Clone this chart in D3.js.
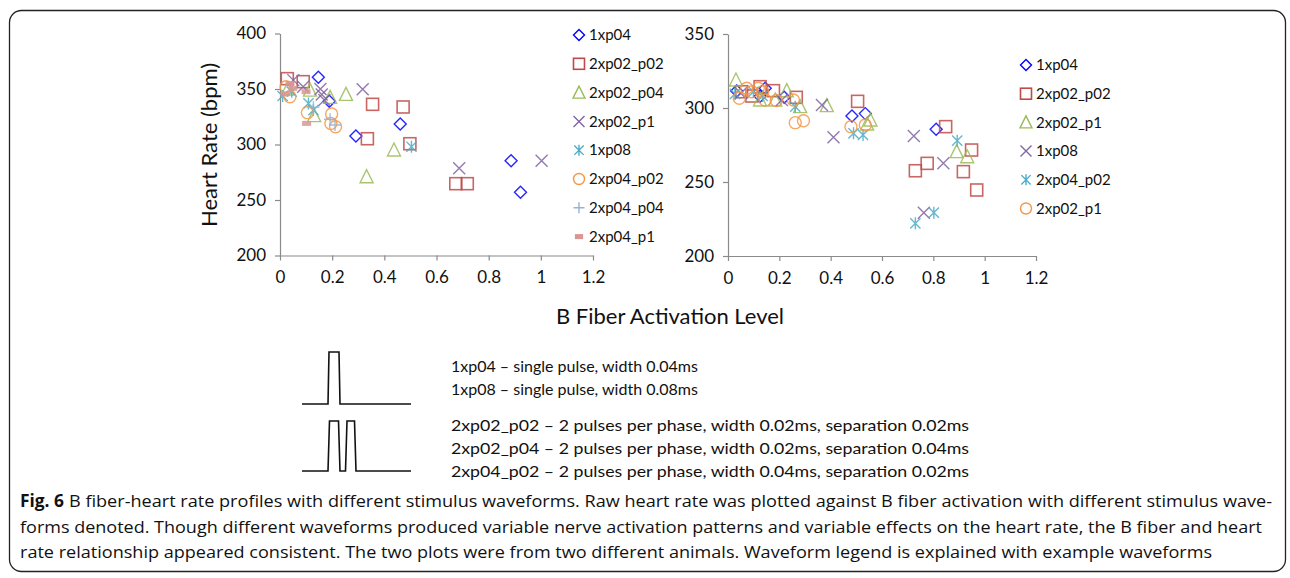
<!DOCTYPE html>
<html><head><meta charset="utf-8">
<script src="https://cdn.jsdelivr.net/npm/d3@7"></script>
<style>
html,body{margin:0;padding:0;background:#fff;}
svg{display:block;}
</style></head>
<body>
<svg id="c" width="1290" height="578"></svg>
<script>
// ---------- DATA ----------
const xTicks = [0, 0.2, 0.4, 0.6, 0.8, 1, 1.2];
const leftYTicks = [200, 250, 300, 350, 400];
const rightYTicks = [200, 250, 300, 350];
const xTitle = "B Fiber Activation Level";
const yTitle = "Heart Rate (bpm)";

// Left panel (animal 1)
const leftNames = ["1xp04","2xp02_p02","2xp02_p04","2xp02_p1","1xp08","2xp04_p02","2xp04_p04","2xp04_p1"];
const L_1xp04    = [[0.147,360.5],[0.189,339],[0.291,307.7],[0.461,318.5],[0.886,285.4],[0.922,257]];
const L_2xp02_p02= [[0.028,359.3],[0.089,356.6],[0.355,336.2],[0.472,333.8],[0.335,305.2],[0.498,300.7],[0.674,264.7],[0.718,264.7]];
const L_2xp02_p04= [[0.253,345.2],[0.192,342.5],[0.115,349],[0.131,326],[0.437,295],[0.332,271],[0.03,350]];
const L_2xp02_p1 = [[0.051,358],[0.089,352],[0.155,350],[0.16,345],[0.17,340],[0.317,349.7],[0.687,278.6],[1.003,285.4]];
const L_1xp08    = [[0.01,343.7],[0.045,347.6],[0.109,337],[0.128,331],[0.504,298]];
const L_2xp04_p02= [[0.023,352],[0.038,343],[0.105,328.7],[0.198,327.5],[0.213,316],[0.195,319]];
const L_2xp04_p04= [[0.128,333.5],[0.192,322.7],[0.211,317.6]];
const L_2xp04_p1 = [[0.019,345.5],[0.038,355],[0.049,350.6],[0.1,347.6],[0.102,319]];
const leftData = [L_1xp04,L_2xp02_p02,L_2xp02_p04,L_2xp02_p1,L_1xp08,L_2xp04_p02,L_2xp04_p04,L_2xp04_p1];
const leftShapes = ["diamond","square","triangle","x","star","circle","plus","dash"];

// Right panel (animal 2)
const rightNames = ["1xp04","2xp02_p02","2xp02_p1","1xp08","2xp04_p02","2xp02_p1"];
const R_1xp04    = [[0.034,311.5],[0.145,313.3],[0.125,308],[0.219,307.2],[0.483,294.6],[0.535,296.2],[0.811,285.6]];
const R_2xp02_p02= [[0.053,311],[0.093,308.1],[0.125,314.4],[0.177,311.7],[0.266,307.2],[0.505,304.5],[0.73,257.6],[0.776,262.6],[0.848,287.4],[0.917,257],[0.949,271.6],[0.969,244.6]];
const R_2xp02_p1a= [[0.031,318.9],[0.125,305.4],[0.184,305.4],[0.229,311.7],[0.281,300.9],[0.385,301.6],[0.555,291.9],[0.542,289.2],[0.891,270.5],[0.932,267.1]];
const R_1xp08    = [[0.05,310],[0.21,305.4],[0.366,302],[0.411,280.2],[0.724,281.1],[0.763,229.3],[0.839,262.6]];
const R_2xp04_p02= [[0.027,309.5],[0.099,311],[0.135,308.1],[0.262,300.9],[0.489,282.9],[0.526,281.8],[0.73,222.1],[0.802,229.3],[0.893,277.9]];
const R_2xp02_p1b= [[0.044,306.6],[0.073,313.3],[0.093,311],[0.118,313.3],[0.135,311],[0.145,305.4],[0.188,305],[0.262,290.1],[0.294,291.4],[0.255,305.4],[0.479,287.4],[0.535,288.5]];
const rightData = [R_1xp04,R_2xp02_p02,R_2xp02_p1a,R_1xp08,R_2xp04_p02,R_2xp02_p1b];
const rightShapes = ["diamond","square","triangle","x","star","circle"];

const waveTexts1 = ["1xp04 \u2013 single pulse, width 0.04ms","1xp08 \u2013 single pulse, width 0.08ms"];
const waveTexts2 = ["2xp02_p02 \u2013 2 pulses per phase, width 0.02ms, separation 0.02ms",
                    "2xp02_p04 \u2013 2 pulses per phase, width 0.02ms, separation 0.04ms",
                    "2xp04_p02 \u2013 2 pulses per phase, width 0.04ms, separation 0.02ms"];
const captionBold = "Fig. 6";
const captionLines = [
 "B fiber-heart rate profiles with different stimulus waveforms. Raw heart rate was plotted against B fiber activation with different stimulus wave-",
 "forms denoted. Though different waveforms produced variable nerve activation patterns and variable effects on the heart rate, the B fiber and heart",
 "rate relationship appeared consistent. The two plots were from two different animals. Waveform legend is explained with example waveforms"];

// ---------- STYLE ----------
const shapeColor = {diamond:"#0000ff",square:"#be4b48",triangle:"#9bbb59",x:"#8064a2",star:"#4bacc6",circle:"#f79646",plus:"#95b3d7",dash:"#d99694"};
const FONT = "Lato, 'Open Sans', sans-serif";
const AX = "#8a8a8a";

const svg = d3.select("#c");
svg.append("rect").attr("width",1290).attr("height",578).attr("fill","#fff");
svg.append("rect").attr("x",9.5).attr("y",10.5).attr("width",1276).attr("height",561).attr("rx",12)
   .attr("fill","none").attr("stroke","#222").attr("stroke-width",1.3);

function drawMarker(g, shape, s){
  const c = shapeColor[shape];
  const h = s/2;
  if(shape==="diamond") g.append("path").attr("d",`M0,${-h}L${h},0L0,${h}L${-h},0Z`).attr("fill","none").attr("stroke",c).attr("stroke-width",1.4);
  else if(shape==="square") g.append("rect").attr("x",-h).attr("y",-h).attr("width",s).attr("height",s).attr("fill","none").attr("stroke",c).attr("stroke-width",1.6);
  else if(shape==="triangle") g.append("path").attr("d",`M0,${-h-1}L${h+0.5},${h}L${-h-0.5},${h}Z`).attr("fill","none").attr("stroke",c).attr("stroke-width",1.4);
  else if(shape==="x") g.append("path").attr("d",`M${-h},${-h}L${h},${h}M${h},${-h}L${-h},${h}`).attr("stroke",c).attr("stroke-width",1.4);
  else if(shape==="star") g.append("path").attr("d",`M${-h*0.85},${-h*0.85}L${h*0.85},${h*0.85}M${h*0.85},${-h*0.85}L${-h*0.85},${h*0.85}M0,${-h}L0,${h}`).attr("stroke",c).attr("stroke-width",1.4);
  else if(shape==="circle") g.append("circle").attr("r",h).attr("fill","none").attr("stroke",c).attr("stroke-width",1.4);
  else if(shape==="plus") g.append("path").attr("d",`M${-h},0L${h},0M0,${-h}L0,${h}`).attr("stroke",c).attr("stroke-width",1.4);
  else if(shape==="dash") g.append("rect").attr("x",-h*0.75).attr("y",-2.5).attr("width",h*1.5).attr("height",5).attr("fill",c);
}

function panel(opt){
  const x = d3.scaleLinear().domain([0,1.2]).range([opt.x0,opt.x1]);
  const y = d3.scaleLinear().domain(opt.ydom).range([opt.yb,opt.yt]);
  const g = svg.append("g");
  // axes
  const xa = g.append("g").attr("transform",`translate(0,${opt.yb})`)
     .call(d3.axisBottom(x).tickValues(xTicks).tickSize(5).tickSizeOuter(0).tickFormat(d=>d3.format("")(d)));
  const ya = g.append("g").attr("transform",`translate(${opt.x0},0)`)
     .call(d3.axisLeft(y).tickValues(opt.yticks).tickSize(5).tickSizeOuter(0));
  [xa,ya].forEach(a=>{
    a.select(".domain").attr("stroke",AX).attr("stroke-width",1.2);
    a.selectAll(".tick line").attr("stroke",AX).attr("stroke-width",1.2);
    a.selectAll(".tick text").attr("fill","#111").style("font-family",FONT).style("font-size","17px");
  });
  xa.selectAll(".tick text").attr("dy","1.15em");
  ya.selectAll(".tick text").attr("x",-14);
  // points
  opt.data.forEach((arr,i)=>{
    const shape = opt.shapes[i];
    arr.forEach(d=>{
      const m = g.append("g").attr("transform",`translate(${x(d[0])},${y(d[1])})`).attr("opacity",0.85);
      drawMarker(m, shape, 12);
    });
  });
  // legend
  opt.names.forEach((n,i)=>{
    const ly = opt.ly0 + i*opt.ldy;
    const m = g.append("g").attr("transform",`translate(${opt.lx},${ly})`);
    drawMarker(m, opt.shapes[i], 11);
    g.append("text").attr("x",opt.lx+10).attr("y",ly).attr("dy","0.35em")
      .style("font-family",FONT).style("font-size","15px").attr("fill","#111").text(n);
  });
}

panel({x0:280,x1:593,yb:255.5,yt:33.5,ydom:[200,400],yticks:leftYTicks,data:leftData,shapes:leftShapes,names:leftNames,lx:579,ly0:35,ldy:28.8});
panel({x0:728,x1:1036,yb:256,yt:34,ydom:[200,350],yticks:rightYTicks,data:rightData,shapes:rightShapes,names:rightNames,lx:1026,ly0:65,ldy:28.7});

// axis titles
svg.append("text").attr("transform","translate(209,145) rotate(-90)").attr("text-anchor","middle").attr("dy","0.35em")
  .style("font-family",FONT).style("font-size","22px").attr("fill","#111").text(yTitle);
svg.append("text").attr("x",670).attr("y",316).attr("text-anchor","middle").attr("dy","0.35em")
  .style("font-family",FONT).style("font-size","22px").attr("fill","#111").text(xTitle);

// waveform drawings
const wl = d3.line();
svg.append("path").attr("d",wl([[302,404],[328,404],[329,352],[339,352],[340,404],[411,404]]))
  .attr("fill","none").attr("stroke","#111").attr("stroke-width",1.6);
svg.append("path").attr("d",wl([[302,471],[328,471],[329.5,421],[338.5,421],[340,471],[345.5,471],[347,421],[354.5,421],[356,471],[411,471]]))
  .attr("fill","none").attr("stroke","#111").attr("stroke-width",1.6);

waveTexts1.forEach((t,i)=>{
  svg.append("text").attr("x",451).attr("y",366+i*23).attr("dy","0.35em")
   .style("font-family",FONT).style("font-size","16px").attr("fill","#111").text(t);
});
waveTexts2.forEach((t,i)=>{
  svg.append("text").attr("x",451).attr("y",425+i*23).attr("dy","0.35em")
   .style("font-family",FONT).style("font-size","16px").attr("fill","#111")
   .attr("textLength",518).attr("lengthAdjust","spacingAndGlyphs").text(t);
});

// caption
svg.append("text").attr("x",20).attr("y",507).style("font-family","'Open Sans', sans-serif").style("font-size","17px")
  .style("font-weight","bold").attr("fill","#111").attr("textLength",44).attr("lengthAdjust","spacingAndGlyphs").text(captionBold);
const capX = [[69,1272],[20,1262],[20,1212]];
captionLines.forEach((t,i)=>{
  svg.append("text").attr("x",capX[i][0]).attr("y",507+i*25.5)
   .style("font-family","'Open Sans', sans-serif").style("font-size","17px").attr("fill","#111")
   .attr("textLength",capX[i][1]-capX[i][0]).attr("lengthAdjust","spacingAndGlyphs").text(t);
});
</script>
</body></html>
